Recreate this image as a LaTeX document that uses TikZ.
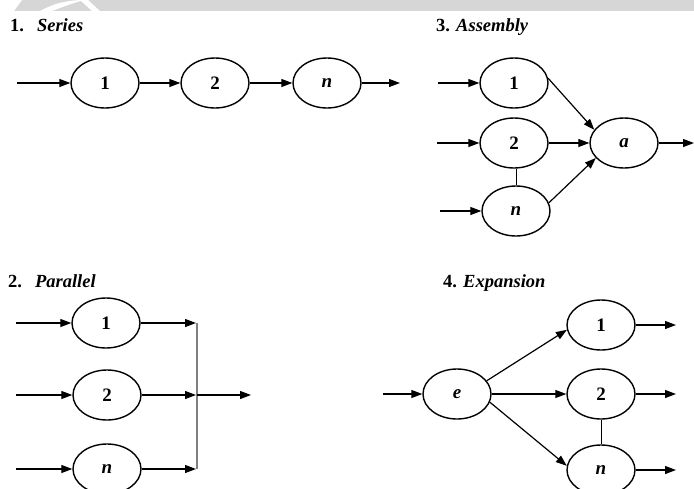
\documentclass[tikz,border=0pt]{standalone}
\usepackage{fontspec}
\setmainfont{Liberation Serif}
\usetikzlibrary{shapes.geometric,arrows.meta}
\tikzset{
  proc/.style={draw, ellipse, line width=1.4pt, minimum width=68pt, minimum height=50pt, inner sep=0pt,
    font=\fontsize{19}{21}\selectfont\bfseries},
  flow/.style={line width=1.2pt, -{Triangle[length=11pt,width=8pt]}},
  link/.style={line width=1pt},
  bar/.style={line width=1.3pt, draw=black!50},
  title/.style={anchor=base west, inner sep=0pt, font=\fontsize{18.5}{20}\selectfont\bfseries}
}
\begin{document}
\begin{tikzpicture}[x=1pt,y=-1pt]
\useasboundingbox (0,0) rectangle (694,488);
% top band
\fill[black!16] (0,0) rectangle (694,11);
\fill[white] (0,0) -- (22,0) -- (14,11) -- (0,11) -- cycle;
\fill[white] (40,11) .. controls (55,3) and (65,1) .. (80,0) -- (84,0) .. controls (70,4) and (60,8) .. (52,11) -- cycle;
\fill[white] (80,0) -- (88,0) -- (100,11) -- (92,11) -- cycle;

% titles
\node[title] (t1) at (10,31) {1.\hspace{0.7em}\textit{Series}};
\node[title] (t3) at (436,31) {3. \textit{Assembly}};
\node[title] (t2) at (8,287) {2.\hspace{0.7em}\textit{Parallel}};
\node[title] (t4) at (443,287) {4. \textit{Expansion}};

% 1. Series
\node[proc] (s1) at (105,83) {1};
\node[proc] (s2) at (215,83) {2};
\node[proc] (sn) at (327,83) {\textit{n}};
\coordinate (sin) at (17,83);
\coordinate (sout) at (400,83);
\draw[flow] (sin) -- (s1);
\draw[flow] (s1) -- (s2);
\draw[flow] (s2) -- (sn);
\draw[flow] (sn) -- (sout);

% 3. Assembly
\node[proc] (a1) at (514,83) {1};
\node[proc] (a2) at (514,143) {2};
\node[proc] (an) at (516,211) {\textit{n}};
\node[proc] (aa) at (624,143) {\textit{a}};
\coordinate (ain1) at (438,83);
\coordinate (ain2) at (437,143);
\coordinate (ainn) at (440,211);
\coordinate (aout) at (694,143);
\draw[flow] (ain1) -- (a1);
\draw[flow] (ain2) -- (a2);
\draw[flow] (ainn) -- (an);
\draw[flow] (a1.8) -- (aa.156);
\draw[flow] (a2) -- (aa);
\draw[flow] (an.14) -- (aa.208);
\draw[flow] (aa) -- (aout);
\draw[link] (a2.south -| an.north) -- (an.north);

% 2. Parallel
\node[proc] (p1) at (106,323) {1};
\node[proc] (p2) at (107,395) {2};
\node[proc] (pn) at (107,469) {\textit{n}};
\coordinate (pin1) at (16,323);
\coordinate (pin2) at (16,395);
\coordinate (pinn) at (16,469);
\coordinate (pb1) at (196,323);
\coordinate (pb2) at (196,395);
\coordinate (pbn) at (196,469);
\coordinate (ptop) at (197,323);
\coordinate (pbot) at (197,469);
\coordinate (pmid) at (197,395);
\coordinate (pout) at (251,395);
\draw[flow] (pin1) -- (p1);
\draw[flow] (pin2) -- (p2);
\draw[flow] (pinn) -- (pn);
\draw[bar] (ptop) -- (pbot);
\draw[flow] (p1) -- (pb1);
\draw[flow] (p2) -- (pb2);
\draw[flow] (pn) -- (pbn);
\draw[flow] (pmid) -- (pout);

% 4. Expansion
\node[proc] (e) at (457,394) {\textit{e}};
\node[proc] (x1) at (601,325) {1};
\node[proc] (x2) at (601,394) {2};
\node[proc] (xn) at (601,470) {\textit{n}};
\coordinate (ein) at (383,394);
\coordinate (xo1) at (676,325);
\coordinate (xo2) at (676,394);
\coordinate (xon) at (676,470);
\draw[flow] (ein) -- (e);
\draw[flow] (e.24) -- (x1.188);
\draw[flow] (e) -- (x2);
\draw[flow] (e.346) -- (xn.173);
\draw[flow] (x1) -- (xo1);
\draw[flow] (x2) -- (xo2);
\draw[flow] (xn) -- (xon);
\draw[link] (x2) -- (xn);
\end{tikzpicture}
\end{document}
